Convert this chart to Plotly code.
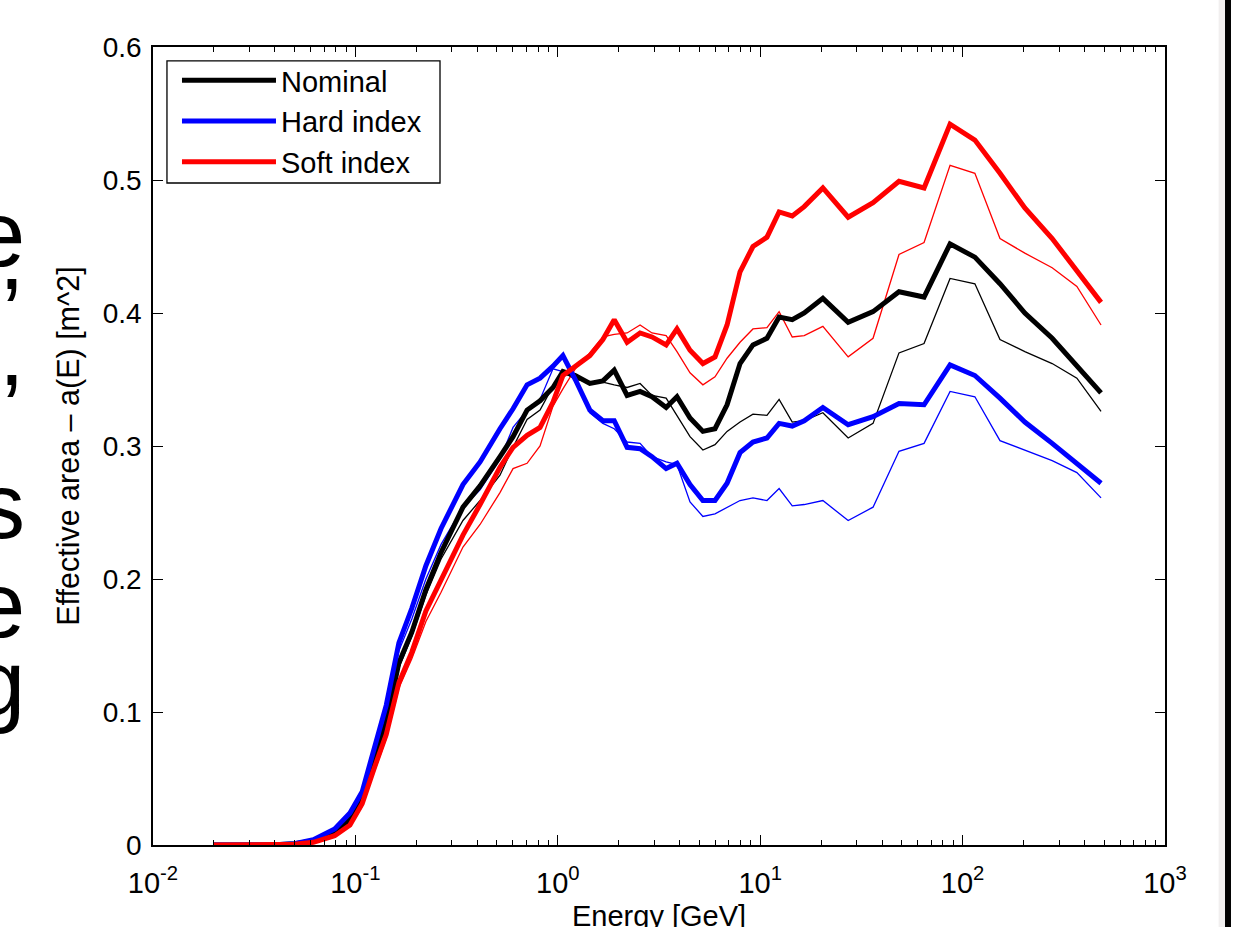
import plotly.graph_objects as go

energy = [0.02, 0.027, 0.038, 0.05, 0.062, 0.079, 0.094, 0.108, 0.124, 0.142,
          0.164, 0.19, 0.223, 0.265, 0.34, 0.413, 0.518, 0.601, 0.705, 0.817,
          0.947, 1.06, 1.22, 1.44, 1.67, 1.90, 2.20, 2.55, 2.92, 3.43,
          3.88, 4.50, 5.21, 5.98, 6.86, 7.95, 9.21, 10.8, 12.4, 14.4,
          16.5, 20.4, 27.2, 36.1, 48.5, 64.5, 86.7, 115, 153, 203,
          277, 367, 483]

nominal = [0, 0, 0, 0.001, 0.003, 0.01, 0.019, 0.036, 0.063, 0.092,
           0.137, 0.16, 0.192, 0.22, 0.254, 0.27, 0.292, 0.307, 0.327, 0.334,
           0.344, 0.356, 0.353, 0.347, 0.349, 0.357, 0.338, 0.341, 0.337, 0.329,
           0.337, 0.321, 0.311, 0.313, 0.331, 0.362, 0.376, 0.381, 0.397, 0.395,
           0.4, 0.411, 0.393, 0.401, 0.416, 0.412, 0.452, 0.442, 0.422, 0.4,
           0.381, 0.36, 0.34]

hard = [0, 0, 0, 0.001, 0.004, 0.012, 0.024, 0.04, 0.072, 0.105,
        0.152, 0.178, 0.21, 0.238, 0.271, 0.288, 0.313, 0.328, 0.346, 0.351,
        0.36, 0.368, 0.35, 0.327, 0.319, 0.319, 0.299, 0.298, 0.292, 0.283,
        0.287, 0.271, 0.259, 0.259, 0.272, 0.295, 0.303, 0.306, 0.317, 0.315,
        0.319, 0.329, 0.316, 0.322, 0.332, 0.331, 0.361, 0.353, 0.336, 0.318,
        0.302, 0.287, 0.272]

soft = [0, 0, 0, 0.0005, 0.002, 0.007, 0.015, 0.031, 0.058, 0.083,
        0.122, 0.145, 0.176, 0.2, 0.233, 0.256, 0.284, 0.299, 0.308, 0.314,
        0.333, 0.353, 0.36, 0.368, 0.38, 0.395, 0.378, 0.385, 0.382, 0.376,
        0.388, 0.372, 0.362, 0.367, 0.391, 0.431, 0.45, 0.457, 0.476, 0.473,
        0.48, 0.494, 0.472, 0.483, 0.499, 0.494, 0.542, 0.53, 0.505, 0.479,
        0.456, 0.431, 0.408]

nominal_thin = [0, 0, 0, 0.001, 0.003, 0.009, 0.018, 0.034, 0.06, 0.09,
                0.133, 0.157, 0.188, 0.215, 0.244, 0.259, 0.278, 0.299, 0.32, 0.327,
                0.345, 0.356, 0.35, 0.348, 0.348, 0.346, 0.344, 0.347, 0.338, 0.336,
                0.323, 0.307, 0.297, 0.301, 0.311, 0.318, 0.324, 0.323, 0.335, 0.318,
                0.319, 0.325, 0.306, 0.317, 0.37, 0.377, 0.426, 0.422, 0.38, 0.371,
                0.362, 0.351, 0.326]

hard_thin = [0, 0, 0, 0.001, 0.004, 0.011, 0.022, 0.038, 0.068, 0.1,
             0.146, 0.17, 0.2, 0.226, 0.254, 0.267, 0.29, 0.314, 0.327, 0.335,
             0.358, 0.356, 0.35, 0.325, 0.317, 0.313, 0.303, 0.302, 0.292, 0.288,
             0.286, 0.258, 0.247, 0.249, 0.254, 0.259, 0.261, 0.259, 0.268, 0.255,
             0.256, 0.259, 0.244, 0.254, 0.296, 0.302, 0.341, 0.337, 0.304, 0.297,
             0.289, 0.28, 0.261]

soft_thin = [0, 0, 0, 0.0005, 0.002, 0.006, 0.014, 0.029, 0.055, 0.08,
             0.118, 0.14, 0.168, 0.19, 0.224, 0.241, 0.265, 0.283, 0.287, 0.3,
             0.33, 0.343, 0.358, 0.37, 0.382, 0.384, 0.385, 0.391, 0.385, 0.383,
             0.371, 0.355, 0.346, 0.352, 0.366, 0.378, 0.388, 0.389, 0.401, 0.382,
             0.383, 0.39, 0.367, 0.381, 0.444, 0.453, 0.511, 0.505, 0.456, 0.445,
             0.434, 0.42, 0.391]

x_tickvals = [0.01, 0.1, 1, 10, 100, 1000]
x_ticktext = ["10<sup>-2</sup>", "10<sup>-1</sup>", "10<sup>0</sup>",
              "10<sup>1</sup>", "10<sup>2</sup>", "10<sup>3</sup>"]
y_tickvals = [0, 0.1, 0.2, 0.3, 0.4, 0.5, 0.6]
y_ticktext = ["0", "0.1", "0.2", "0.3", "0.4", "0.5", "0.6"]
x_title = "Energy [GeV]"
y_title = "Effective area \u2013 a(E) [m^2]"

side_letters = ["e", ",", ",", "s", "e", "g"]
side_letter_y = [0.766, 0.737, 0.616, 0.425, 0.301, 0.203]

FONT = "Liberation Sans, Arial, Helvetica, sans-serif"
FS = 29

fig = go.Figure()
for ys, col in [(nominal_thin, "black"), (hard_thin, "blue"), (soft_thin, "red")]:
    fig.add_trace(go.Scatter(x=energy, y=ys, mode="lines", showlegend=False,
                             line=dict(color=col, width=1.3)))
for ys, col, name in [(nominal, "black", "Nominal"), (hard, "blue", "Hard index"),
                      (soft, "red", "Soft index")]:
    fig.add_trace(go.Scatter(x=energy, y=ys, mode="lines", name=name,
                             line=dict(color=col, width=5)))

minor_vals = [k * 10 ** e for e in range(-2, 3) for k in range(2, 10)]

fig.update_layout(
    width=1233, height=927,
    margin=dict(l=153, r=68, t=47, b=82, autoexpand=False),
    paper_bgcolor="white", plot_bgcolor="white",
    font=dict(family=FONT, color="black", size=FS),
    showlegend=True,
    legend=dict(x=0.0237, y=0.99, xanchor="left", yanchor="top",
                borderwidth=0, bgcolor="rgba(0,0,0,0)",
                font=dict(size=FS, family=FONT), itemwidth=94,
                tracegroupgap=0),
    xaxis=dict(type="log", range=[-2, 3], tickvals=x_tickvals, ticktext=x_ticktext,
               ticks="inside", ticklen=10, tickwidth=1.3, tickcolor="black",
               showline=True, linecolor="black", linewidth=1.5, mirror="ticks",
               showgrid=False, zeroline=False, ticklabelstandoff=11,
               automargin=False,
               tickfont=dict(size=FS, family=FONT),
               minor=dict(tickvals=minor_vals, ticks="inside", ticklen=5,
                          tickcolor="black", tickwidth=1.1, showgrid=False)),
    yaxis=dict(range=[0, 0.6], tickvals=y_tickvals, ticktext=y_ticktext,
               ticks="inside", ticklen=10, tickwidth=1.3, tickcolor="black",
               showline=True, linecolor="black", linewidth=1.5, mirror="ticks",
               showgrid=False, zeroline=False, ticklabelstandoff=4,
               automargin=False,
               tickfont=dict(size=FS - 1, family=FONT),
               title=dict(text=y_title, font=dict(size=30.5, family=FONT),
                          standoff=14)),
)

# x-axis title (sits partly below the page edge, as in the source image)
fig.add_annotation(text=x_title, xref="paper", yref="paper", x=0.5, y=-0.0664,
                   xanchor="center", yanchor="top", showarrow=False,
                   font=dict(size=FS, family=FONT, color="black"))

# legend frame
fig.add_shape(type="rect", xref="paper", yref="paper",
              x0=0.0138, x1=0.2836, y0=0.8296, y1=0.9825,
              fillcolor="rgba(0,0,0,0)", line=dict(color="black", width=1.3),
              layer="above")

for ch, yy in zip(side_letters, side_letter_y):
    fig.add_annotation(text=ch, xref="paper", yref="paper", x=-0.125, y=yy,
                       xanchor="right", yanchor="middle", showarrow=False,
                       font=dict(size=92, family=FONT, color="black"))

fig.add_shape(type="rect", xref="paper", yref="paper",
              x0=1.0593, x1=1.0652, y0=-0.2, y1=1.2,
              fillcolor="black", line=dict(width=0))
fig.add_shape(type="rect", xref="paper", yref="paper",
              x0=1.053, x1=1.0593, y0=-0.2, y1=1.2,
              fillcolor="rgba(200,190,190,0.25)", line=dict(width=0))

fig.write_html("out.html", config={"displayModeBar": False},
               post_script="document.body.style.margin='0px';")
